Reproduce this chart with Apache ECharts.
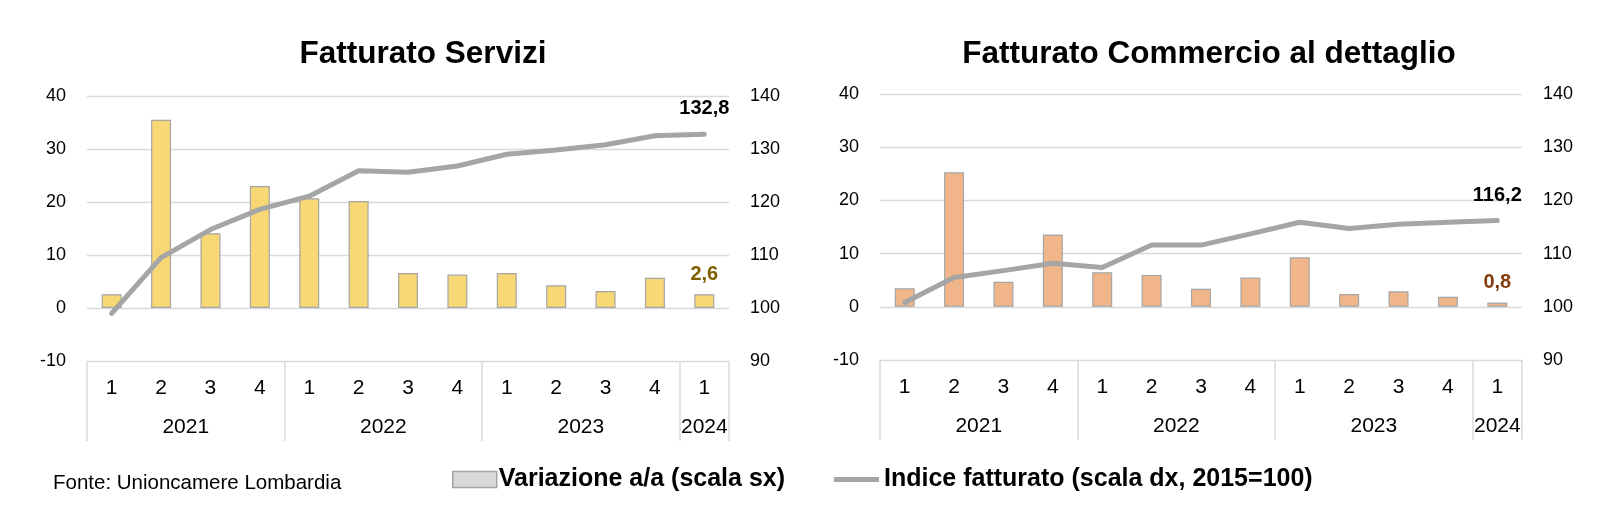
<!DOCTYPE html>
<html>
<head>
<meta charset="utf-8">
<script src="https://cdn.jsdelivr.net/npm/echarts@6/dist/echarts.min.js"></script>
<style>
html,body{margin:0;padding:0;background:#fff;}
#chart{width:1601px;height:513px;}
</style>
</head>
<body>
<div id="chart"></div>
<script>
// ---- data ----
const quarters = ['1','2','3','4','1','2','3','4','1','2','3','4','1'];
const years = ['2021','2022','2023','2024'];
const yearCounts = [4,4,4,1];

const serviziVar = [2.6,35.5,14.1,23.0,20.7,20.2,6.6,6.3,6.6,4.3,3.2,5.7,2.6];
const serviziIdx = [99.0,109.5,114.8,118.6,121.1,125.9,125.6,126.8,129.0,129.8,130.8,132.5,132.8];

const commercioVar = [3.5,25.3,4.7,13.6,6.5,6.0,3.4,5.5,9.3,2.4,2.9,1.9,0.8];
const commercioIdx = [100.8,105.5,106.8,108.2,107.4,111.6,111.6,113.7,115.9,114.7,115.5,115.9,116.2];

const leftTicks = {min:-10,max:40,interval:10};
const rightTicks = {min:90,max:140,interval:10};

const titles = ['Fatturato Servizi','Fatturato Commercio al dettaglio'];
const barName = 'Variazione a/a (scala sx)';
const lineName = 'Indice fatturato (scala dx, 2015=100)';
const source = 'Fonte: Unioncamere Lombardia';

// ---- derived year-group positions ----
const bounds = [0];
yearCounts.forEach(c => bounds.push(bounds[bounds.length-1] + c));
const centers = yearCounts.map((c,i) => bounds[i] + c/2);

const FONT = '"Liberation Sans", Arial, sans-serif';
const fmt = v => v.toFixed(1).replace('.', ',');
const gridCol = '#D9D9D9';
const lineCol = '#A5A5A5';

const grids = [
  {left:87, top:96, width:642, height:265},
  {left:880, top:94, width:642, height:266}
];
const barColors = ['#F8D775','#F0B68A'];
const barLabelColors = ['#7F6000','#843C0C'];
const barData = [serviziVar, commercioVar];
const lineData = [serviziIdx, commercioIdx];

const xAxes = [], yAxes = [], series = [];
grids.forEach((g, gi) => {
  xAxes.push({
    type:'category', gridIndex:gi, data:quarters, position:'bottom',
    axisLine:{onZero:false, lineStyle:{color:gridCol, width:1}},
    axisTick:{show:false},
    axisLabel:{color:'#000', fontSize:21, fontFamily:FONT, margin:17, interval:0}
  });
  xAxes.push({
    type:'value', gridIndex:gi, min:0, max:bounds[bounds.length-1], position:'bottom',
    axisLine:{show:false, onZero:false},
    splitLine:{show:false},
    axisTick:{show:true, customValues:bounds, length:80, lineStyle:{color:gridCol, width:1.5}},
    axisLabel:{customValues:centers, color:'#000', fontSize:21, fontFamily:FONT, margin:56,
      formatter: v => { const i = centers.findIndex(c => Math.abs(c - v) < 1e-6); return i >= 0 ? years[i] : ''; }}
  });
  yAxes.push({
    type:'value', gridIndex:gi, position:'left', min:leftTicks.min, max:leftTicks.max, interval:leftTicks.interval,
    axisLine:{show:false}, axisTick:{show:false},
    splitLine:{show:true, lineStyle:{color:gridCol, width:1.3}},
    axisLabel:{color:'#000', fontSize:18, fontFamily:FONT, margin:21}
  });
  yAxes.push({
    type:'value', gridIndex:gi, position:'right', min:rightTicks.min, max:rightTicks.max, interval:rightTicks.interval,
    axisLine:{show:false}, axisTick:{show:false}, splitLine:{show:false},
    axisLabel:{color:'#000', fontSize:18, fontFamily:FONT, margin:21}
  });
  const last = quarters.length - 1;
  series.push({
    type:'bar', name:barName, xAxisIndex:gi*2, yAxisIndex:gi*2, data:barData[gi],
    barWidth:20,
    itemStyle:{color:barColors[gi], borderColor:lineCol, borderWidth:1.2},
    label:{show:true, position:'top', distance:10, fontSize:20, fontWeight:'bold', fontFamily:FONT,
      color:barLabelColors[gi], formatter: p => p.dataIndex === last ? fmt(p.value) : ''},
    z:2
  });
  series.push({
    type:'line', name:lineName, xAxisIndex:gi*2, yAxisIndex:gi*2+1, data:lineData[gi],
    showSymbol:true, symbol:'circle', symbolSize:1,
    lineStyle:{color:lineCol, width:5, cap:'round', join:'round'},
    itemStyle:{color:lineCol},
    label:{show:true, position:'top', distance:15, fontSize:20, fontWeight:'bold', fontFamily:FONT,
      color:'#000', formatter: p => p.dataIndex === last ? fmt(p.value) : ''},
    z:3
  });
});

const chart = echarts.init(document.getElementById('chart'), null, {renderer:'canvas'});
chart.setOption({
  animation:false,
  backgroundColor:'#fff',
  title:[
    {text:titles[0], left:418, top:33, textAlign:'center',
      textStyle:{fontSize:31.5, fontWeight:'bold', color:'#000', fontFamily:FONT}},
    {text:titles[1], left:1204, top:33, textAlign:'center',
      textStyle:{fontSize:31.5, fontWeight:'bold', color:'#000', fontFamily:FONT}},
    {text:source, left:48, top:468,
      textStyle:{fontSize:20.5, fontWeight:'normal', color:'#000', fontFamily:FONT}}
  ],
  legend:[
    {data:[{name:barName, icon:'rect', itemStyle:{color:'#D9D9D9', borderColor:lineCol, borderWidth:1.5}}],
      left:447, top:462, itemWidth:44, itemHeight:16, itemGap:4,
      textStyle:{fontSize:25, fontWeight:'bold', color:'#000', fontFamily:FONT, padding:[0,0,0,-3]}},
    {data:[{name:lineName, icon:'rect', itemStyle:{color:lineCol}}],
      left:829, top:462, itemWidth:45, itemHeight:5, itemGap:4,
      textStyle:{fontSize:25, fontWeight:'bold', color:'#000', fontFamily:FONT, padding:[0,0,0,0]}}
  ],
  grid:grids,
  xAxis:xAxes,
  yAxis:yAxes,
  series:series
});
</script>
</body>
</html>
